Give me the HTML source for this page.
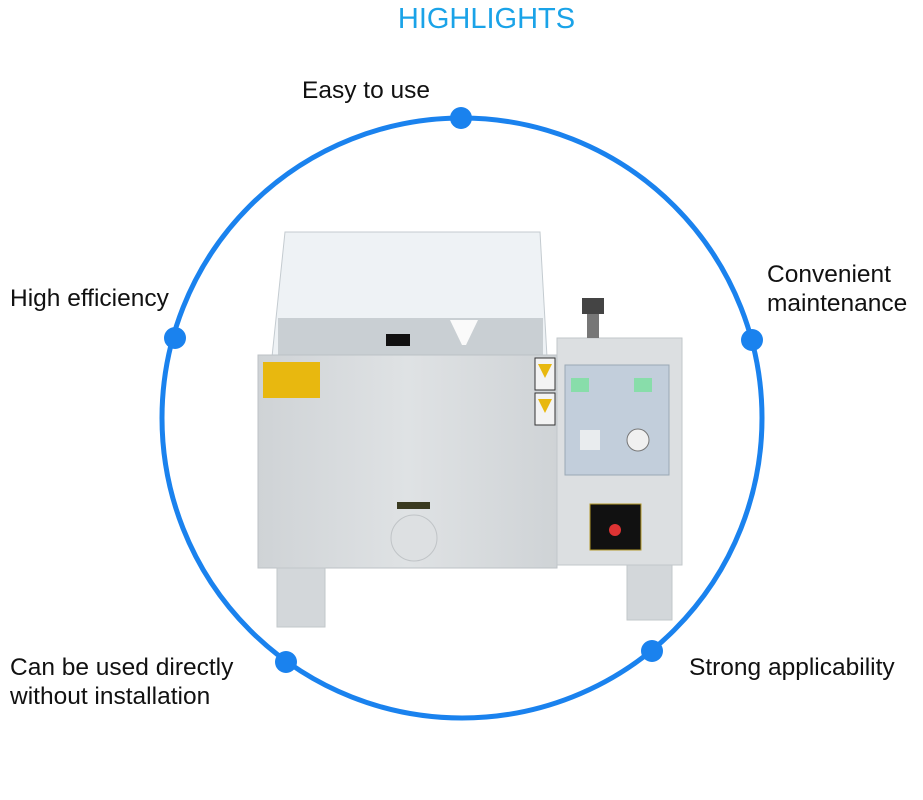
<!DOCTYPE html>
<html><head><style>
body{margin:0;width:923px;height:800px;background:#fff;position:relative;overflow:hidden;font-family:"Liberation Sans",sans-serif}
.t{position:absolute;font-size:24.5px;color:#111;line-height:29px}
</style></head><body>
<div style="position:absolute;left:0;width:973px;top:3px;text-align:center;font-size:29px;color:#1aa3e8">HIGHLIGHTS</div>
<svg width="923" height="800" style="position:absolute;left:0;top:0">
<defs>
<linearGradient id="b" x1="0" x2="1"><stop offset="0" stop-color="#cfd3d6"/><stop offset="0.5" stop-color="#dfe2e4"/><stop offset="1" stop-color="#cfd3d6"/></linearGradient>
</defs>
<polygon points="285,232 540,232 547,357 272,357" fill="#eef2f5" stroke="#c4cbd0"/>
<rect x="278" y="318" width="265" height="38" fill="#c9cfd3"/>
<rect x="386" y="334" width="24" height="12" fill="#111"/>
<polygon points="450,320 478,320 466,345 462,345" fill="#fafafa"/>
<rect x="258" y="355" width="299" height="213" fill="url(#b)" stroke="#bcc2c6"/>
<rect x="263" y="362" width="57" height="36" fill="#e8b80f"/>
<rect x="535" y="358" width="20" height="32" fill="#f3f3f3" stroke="#333"/>
<rect x="535" y="393" width="20" height="32" fill="#f3f3f3" stroke="#333"/>
<polygon points="538,364 552,364 545,378" fill="#e8b80f"/>
<polygon points="538,399 552,399 545,413" fill="#e8b80f"/>
<rect x="397" y="502" width="33" height="7" fill="#3a3a20"/>
<circle cx="414" cy="538" r="23" fill="#dde0e2" stroke="#c0c4c7"/>
<rect x="277" y="568" width="48" height="59" fill="#d3d7da" stroke="#c2c7ca"/>
<rect x="627" y="565" width="45" height="55" fill="#d3d7da" stroke="#c2c7ca"/>
<rect x="557" y="338" width="125" height="227" fill="#dcdfe1" stroke="#c2c7ca"/>
<rect x="587" y="300" width="12" height="38" fill="#777"/>
<rect x="582" y="298" width="22" height="16" fill="#444"/>
<rect x="565" y="365" width="104" height="110" fill="#c2cedb" stroke="#9aa8b5"/>
<rect x="571" y="378" width="18" height="14" fill="#8da"/>
<rect x="634" y="378" width="18" height="14" fill="#8da"/>
<rect x="580" y="430" width="20" height="20" fill="#e9ecee"/>
<circle cx="638" cy="440" r="11" fill="#f0f0f0" stroke="#777"/>
<rect x="590" y="504" width="51" height="46" fill="#111" stroke="#b59a2a"/>
<circle cx="615" cy="530" r="6" fill="#d33"/>
<circle cx="462" cy="418" r="300" fill="none" stroke="#1a82ee" stroke-width="5"/>
<g fill="#1a82ee">
<circle cx="461" cy="118" r="11"/><circle cx="175" cy="338" r="11"/><circle cx="752" cy="340" r="11"/>
<circle cx="286" cy="662" r="11"/><circle cx="652" cy="651" r="11"/>
</g>
</svg>
<div class="t" style="left:302px;top:76px">Easy to use</div>
<div class="t" style="left:10px;top:284px">High efficiency</div>
<div class="t" style="left:767px;top:260px">Convenient<br>maintenance</div>
<div class="t" style="left:10px;top:653px">Can be used directly<br>without installation</div>
<div class="t" style="left:689px;top:653px">Strong applicability</div>
</body></html>
